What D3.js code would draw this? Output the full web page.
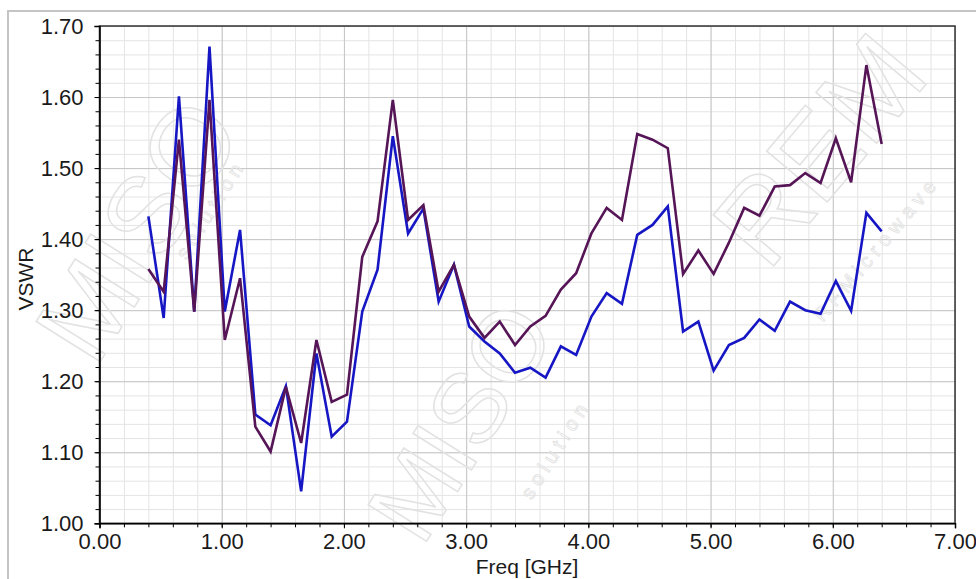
<!DOCTYPE html>
<html>
<head>
<meta charset="utf-8">
<script src="https://cdn.jsdelivr.net/npm/d3@7"></script>
<style>
  body { margin: 0; background: #fff; }
  text { font-family: "Liberation Sans", Arial, sans-serif; }
</style>
</head>
<body>
<div id="container"></div>
<script>
// frequency points (GHz)
let freq = [0.400, 0.525, 0.650, 0.775, 0.900, 1.025, 1.150, 1.275, 1.400, 1.525,
            1.650, 1.775, 1.900, 2.025, 2.150, 2.275, 2.400, 2.525, 2.650, 2.775,
            2.900, 3.025, 3.150, 3.275, 3.400, 3.525, 3.650, 3.775, 3.900, 4.025,
            4.150, 4.275, 4.400, 4.525, 4.650, 4.775, 4.900, 5.025, 5.150, 5.275,
            5.400, 5.525, 5.650, 5.775, 5.900, 6.025, 6.150, 6.275, 6.400]

let vswrBlue = [1.432, 1.289, 1.601, 1.298, 1.671, 1.298, 1.413, 1.153, 1.138, 1.193,
                1.045, 1.239, 1.122, 1.143, 1.298, 1.357, 1.545, 1.408, 1.443, 1.312,
                1.364, 1.277, 1.256, 1.239, 1.212, 1.219, 1.205, 1.249, 1.237, 1.291,
                1.324, 1.309, 1.406, 1.420, 1.446, 1.270, 1.284, 1.215, 1.251, 1.261,
                1.287, 1.271, 1.312, 1.300, 1.295, 1.341, 1.299, 1.437, 1.411]

let vswrPurple = [1.358, 1.326, 1.540, 1.298, 1.596, 1.258, 1.345, 1.136, 1.101, 1.192,
                  1.113, 1.258, 1.171, 1.181, 1.375, 1.425, 1.596, 1.427, 1.448, 1.326,
                  1.364, 1.291, 1.261, 1.284, 1.251, 1.277, 1.292, 1.329, 1.352, 1.408,
                  1.444, 1.427, 1.548, 1.540, 1.528, 1.351, 1.384, 1.351, 1.395, 1.444,
                  1.433, 1.474, 1.476, 1.493, 1.479, 1.542, 1.480, 1.645, 1.534]

let xTicks = [0, 1, 2, 3, 4, 5, 6, 7]
let yTicks = [1.0, 1.1, 1.2, 1.3, 1.4, 1.5, 1.6, 1.7]

let width = 976
let height = 579
let plot = {left: 99.5, right: 955, top: 26, bottom: 523.3}
let svg

function createSVG() {
    svg = d3.select('#container').append('svg')
      .attr('width', width)
      .attr('height', height)
}

function watermark(txt, x, y, size, angle, sw) {
    svg.append('text')
      .attr('transform', `translate(${x},${y}) rotate(${angle})`)
      .attr('text-anchor', 'middle')
      .style('font-size', size + 'px')
      .style('fill', 'none')
      .style('stroke', '#e2e2e2')
      .style('stroke-width', sw)
      .text(txt)
}

function build() {
    // outer grey frame
    svg.append('rect')
      .attr('x', 8).attr('y', 11)
      .attr('width', width).attr('height', height)
      .style('fill', 'none')
      .style('stroke', '#c4c4c4')
      .style('stroke-width', 2)

    const xScale = d3.scaleLinear()
      .domain([0, 7])
      .range([plot.left, plot.right])

    const yScale = d3.scaleLinear()
      .domain([1.0, 1.7])
      .range([plot.bottom, plot.top])

    // minor grid
    svg.append('g')
      .attr('transform', `translate(0,${plot.bottom})`)
      .call(d3.axisBottom(xScale).ticks(35).tickSize(plot.top - plot.bottom).tickFormat(''))
      .call(g => g.select('.domain').remove())
      .selectAll('line').style('stroke', '#e4e4e4')
    svg.append('g')
      .attr('transform', `translate(${plot.left},0)`)
      .call(d3.axisLeft(yScale).ticks(35).tickSize(plot.left - plot.right).tickFormat(''))
      .call(g => g.select('.domain').remove())
      .selectAll('line').style('stroke', '#e4e4e4')

    // major grid
    svg.append('g')
      .attr('transform', `translate(0,${plot.bottom})`)
      .call(d3.axisBottom(xScale).tickValues(xTicks).tickSize(plot.top - plot.bottom).tickFormat(''))
      .call(g => g.select('.domain').remove())
      .selectAll('line').style('stroke', '#c6c6c6')
    svg.append('g')
      .attr('transform', `translate(${plot.left},0)`)
      .call(d3.axisLeft(yScale).tickValues(yTicks).tickSize(plot.left - plot.right).tickFormat(''))
      .call(g => g.select('.domain').remove())
      .selectAll('line').style('stroke', '#c6c6c6')

    // watermarks (kept inside the picture)
    watermark('MISO', 170, 250, 110, -58, 1.5)
    watermark('MISO', 490, 440, 100, -58, 1.5)
    watermark('REM', 850, 175, 115, -50, 1.5)
    watermark('s o l u t i o n', 215, 215, 20, -58, 0.8)
    watermark('s o l u t i o n', 560, 455, 20, -58, 0.8)
    watermark('R F  M i c r o w a v e', 880, 255, 20, -50, 0.8)

    // lines
    let pts = freq.map((f, i) => ({f: f, b: vswrBlue[i], p: vswrPurple[i]}))

    svg.append('path')
      .datum(pts)
      .attr('d', d3.line().x(d => xScale(d.f)).y(d => yScale(d.b)))
      .style('fill', 'none')
      .style('stroke', '#1616c4')
      .style('stroke-width', 2.6)
      .style('stroke-linejoin', 'miter')

    svg.append('path')
      .datum(pts)
      .attr('d', d3.line().x(d => xScale(d.f)).y(d => yScale(d.p)))
      .style('fill', 'none')
      .style('stroke', '#561556')
      .style('stroke-width', 2.6)
      .style('stroke-linejoin', 'miter')

    // frame top / right
    svg.append('rect')
      .attr('x', plot.left).attr('y', plot.top)
      .attr('width', plot.right - plot.left).attr('height', plot.bottom - plot.top)
      .style('fill', 'none')
      .style('stroke', '#333')
      .style('stroke-width', 1.5)

    // axes
    let xMinor = svg.append('g')
      .attr('transform', `translate(0,${plot.bottom})`)
      .call(d3.axisBottom(xScale).ticks(35).tickSize(4).tickFormat(''))
    xMinor.select('.domain').remove()

    let yMinor = svg.append('g')
      .attr('transform', `translate(${plot.left},0)`)
      .call(d3.axisLeft(yScale).ticks(35).tickSize(4).tickFormat(''))
    yMinor.select('.domain').remove()

    let xAxis = svg.append('g')
      .attr('transform', `translate(0,${plot.bottom})`)
      .call(d3.axisBottom(xScale).tickValues(xTicks).tickSize(5).tickPadding(5).tickFormat(d3.format('.2f')))
    xAxis.select('.domain').attr('stroke', '#000').attr('stroke-width', 1.5)
    xAxis.selectAll('text').style('font-size', '22px').style('fill', '#1a1a1a')
      .style('font-family', '"Liberation Sans", Arial, sans-serif')

    let yAxis = svg.append('g')
      .attr('transform', `translate(${plot.left},0)`)
      .call(d3.axisLeft(yScale).tickValues(yTicks).tickSize(5).tickPadding(11).tickFormat(d3.format('.2f')))
    yAxis.select('.domain').attr('stroke', '#000').attr('stroke-width', 1.5)
    yAxis.selectAll('text').style('font-size', '22px').style('fill', '#1a1a1a')
      .style('font-family', '"Liberation Sans", Arial, sans-serif')

    // axis titles
    svg.append('text')
      .attr('x', 527).attr('y', 574)
      .attr('text-anchor', 'middle')
      .style('font-size', '21px')
      .style('fill', '#1a1a1a')
      .text('Freq [GHz]')

    svg.append('text')
      .attr('transform', 'translate(33,279) rotate(-90)')
      .attr('text-anchor', 'middle')
      .style('font-size', '21px')
      .style('fill', '#1a1a1a')
      .text('VSWR')
}

createSVG()
build()
</script>
</body>
</html>
